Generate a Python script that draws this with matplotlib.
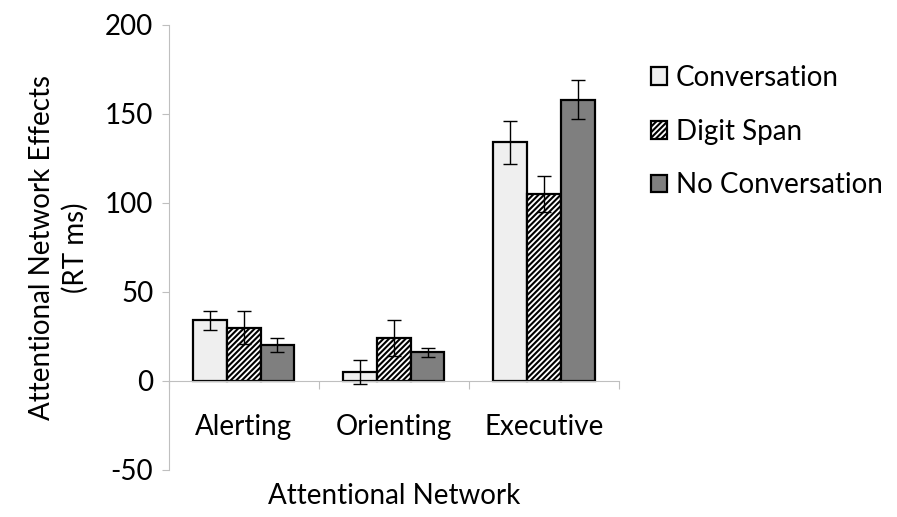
import matplotlib
matplotlib.use("Agg")
import matplotlib.pyplot as plt
import numpy as np

plt.rcParams['font.family'] = ['Lato', 'DejaVu Sans']
plt.rcParams['hatch.linewidth'] = 1.5
plt.rcParams['axes.unicode_minus'] = False

categories = ["Alerting", "Orienting", "Executive"]
series = ["Conversation", "Digit Span", "No Conversation"]
conversation = [34, 5, 134]
digit_span = [30, 24, 105]
no_conversation = [20, 16, 158]
conversation_err = [5.5, 7, 12]
digit_span_err = [9, 10, 10]
no_conversation_err = [4, 2.5, 11]
yticks = [-50, 0, 50, 100, 150, 200]

values = [conversation, digit_span, no_conversation]
errors = [conversation_err, digit_span_err, no_conversation_err]
fills = ["#efefef", "white", "#7f7f7f"]
hatches = [None, "//////", None]

FS = 20

fig = plt.figure(figsize=(8.97, 5.17), dpi=100)
ax = fig.add_axes([0.188, 0.091, 0.502, 0.861])

x = np.arange(len(categories))
w = 0.225
for i, (vals, errs) in enumerate(zip(values, errors)):
    pos = x + (i - 1) * w
    ax.bar(pos, vals, w, color=fills[i], edgecolor="black", linewidth=1.6,
           hatch=hatches[i], label=series[i], zorder=2)
    ax.errorbar(pos, vals, yerr=errs, fmt="none", ecolor="black",
                elinewidth=1.0, capsize=5, capthick=1.0, zorder=3)

ax.set_xlim(-0.5, 2.5)
ax.set_ylim(-50, 200)
ax.set_yticks(yticks)
ax.tick_params(axis="y", labelsize=FS, length=5, color="#bfbfbf", pad=6)
ax.spines["right"].set_visible(False)
ax.spines["top"].set_visible(False)
ax.spines["left"].set_color("#bfbfbf")
ax.spines["bottom"].set_position(("data", 0))
ax.spines["bottom"].set_color("#bfbfbf")
ax.set_xticks([-0.5, 0.5, 1.5, 2.5], minor=False)
ax.set_xticklabels([])
ax.tick_params(axis="x", which="major", length=6, color="#bfbfbf")
ax.set_xticks(x, minor=True)
ax.set_xticklabels(categories, minor=True)
ax.tick_params(axis="x", which="minor", length=0, labelsize=FS, pad=24)

ax.set_ylabel("Attentional Network Effects\n(RT ms)", fontsize=FS, labelpad=12,
              linespacing=1.3)
fig.text(0.439, 0.04, "Attentional Network", ha="center", va="center", fontsize=FS)

fig.legend(loc="upper left", bbox_to_anchor=(0.713, 0.896), frameon=False,
           fontsize=FS, handlelength=0.6, handleheight=0.6, handletextpad=0.3,
           labelspacing=1.0, borderaxespad=0.0)

fig.savefig("out.png", dpi=100)
